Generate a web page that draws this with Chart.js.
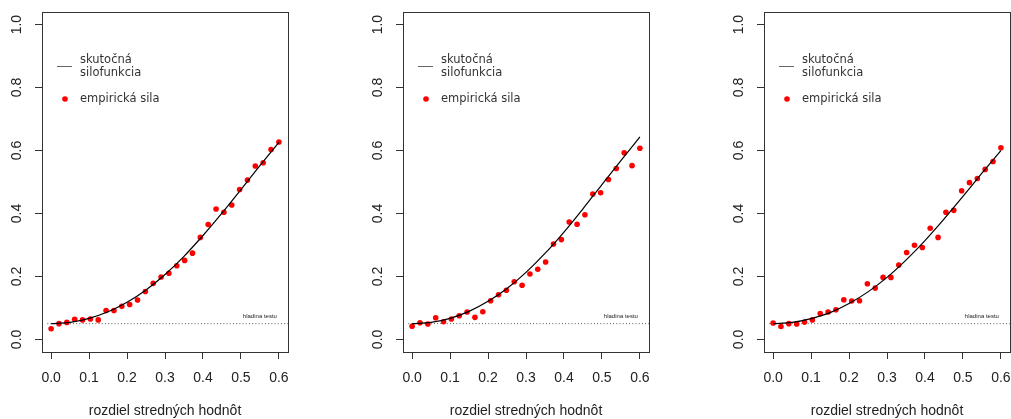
<!DOCTYPE html>
<html>
<head>
<meta charset="utf-8">
<script src="https://cdn.jsdelivr.net/npm/chart.js@4/dist/chart.umd.min.js"></script>
<style>
  html, body { margin: 0; padding: 0; background: #fff; overflow: hidden; }
  #wrap { position: relative; width: 1011px; height: 419px; overflow: hidden; }
  .panel { position: absolute; top: 0; width: 361px; height: 419px; }
</style>
</head>
<body>
<div id="wrap">
  <div class="panel" style="left:0"><canvas id="chart-1"></canvas></div>
  <div class="panel" style="left:361px"><canvas id="chart-2"></canvas></div>
  <div class="panel" style="left:722px"><canvas id="chart-3"></canvas></div>
</div>
<script>
// --- Dáta ---
const dotX = [0, 0.0207, 0.0414, 0.0621, 0.0828, 0.1034, 0.1241, 0.1448, 0.1655, 0.1862,
              0.2069, 0.2276, 0.2483, 0.2690, 0.2897, 0.3103, 0.3310, 0.3517, 0.3724, 0.3931,
              0.4138, 0.4345, 0.4552, 0.4759, 0.4966, 0.5172, 0.5379, 0.5586, 0.5793, 0.6];

const empirical1 = [0.034, 0.050, 0.054, 0.064, 0.062, 0.065, 0.062, 0.092, 0.092, 0.105,
                    0.111, 0.125, 0.152, 0.178, 0.198, 0.210, 0.234, 0.251, 0.274, 0.324,
                    0.365, 0.414, 0.404, 0.427, 0.476, 0.506, 0.551, 0.561, 0.603, 0.627];
const empirical2 = [0.042, 0.053, 0.049, 0.069, 0.056, 0.065, 0.075, 0.087, 0.070, 0.088,
                    0.123, 0.142, 0.156, 0.183, 0.172, 0.208, 0.223, 0.246, 0.303, 0.317,
                    0.373, 0.366, 0.396, 0.462, 0.466, 0.508, 0.543, 0.593, 0.552, 0.607];
const empirical3 = [0.052, 0.041, 0.050, 0.049, 0.055, 0.062, 0.082, 0.087, 0.094, 0.126,
                    0.122, 0.123, 0.177, 0.163, 0.197, 0.197, 0.236, 0.276, 0.299, 0.292,
                    0.353, 0.324, 0.404, 0.410, 0.472, 0.498, 0.511, 0.540, 0.565, 0.609];

const curveX = [0, 0.05, 0.1, 0.15, 0.2, 0.25, 0.3, 0.35, 0.4, 0.45, 0.5, 0.55, 0.6];
const power1 = [0.050, 0.054, 0.067, 0.088, 0.118, 0.157, 0.206, 0.264, 0.330, 0.401, 0.476, 0.552, 0.626];
const power2 = [0.050, 0.054, 0.067, 0.089, 0.121, 0.162, 0.213, 0.273, 0.341, 0.415, 0.492, 0.568, 0.643];
const power3 = [0.050, 0.054, 0.066, 0.085, 0.114, 0.151, 0.197, 0.252, 0.314, 0.382, 0.454, 0.528, 0.600];

const alphaLevel = 0.05;
const xTicks = [0, 0.1, 0.2, 0.3, 0.4, 0.5, 0.6];
const xTickLabels = ['0.0', '0.1', '0.2', '0.3', '0.4', '0.5', '0.6'];
const yTicks = [0, 0.2, 0.4, 0.6, 0.8, 1.0];
const yTickLabels = ['0.0', '0.2', '0.4', '0.6', '0.8', '1.0'];

const xTitle = 'rozdiel stredných hodnôt';
const legendCurve = ['skutočná', 'silofunkcia'];
const legendDots = 'empirická sila';
const alphaText = 'hladina testu';

const tickFont = '14px "Liberation Sans", Arial, sans-serif';
const legendFont = '11.5px "DejaVu Sans", sans-serif';

// --- Plugin: rámček, popisy osí, legenda ---
const rPlotPlugin = {
    id: 'rPlot',
    afterDraw(chart) {
        const ctx = chart.ctx;
        const area = chart.chartArea;
        const xs = chart.scales.x;
        const ys = chart.scales.y;
        ctx.save();

        // rámček
        ctx.strokeStyle = '#333';
        ctx.lineWidth = 1;
        ctx.strokeRect(Math.round(area.left) + 0.5, Math.round(area.top) + 0.5,
                       Math.round(area.right - area.left), Math.round(area.bottom - area.top));

        ctx.fillStyle = '#222';
        ctx.font = tickFont;
        ctx.textAlign = 'center';
        ctx.textBaseline = 'middle';

        // popisy osi x
        xTicks.forEach((v, i) => {
            ctx.fillText(xTickLabels[i], xs.getPixelForValue(v), area.bottom + 26);
        });
        // popisy osi y (otočené)
        yTicks.forEach((v, i) => {
            ctx.save();
            ctx.translate(area.left - 25, ys.getPixelForValue(v));
            ctx.rotate(-Math.PI / 2);
            ctx.fillText(yTickLabels[i], 0, 0);
            ctx.restore();
        });
        // názov osi x
        ctx.fillText(xTitle, (area.left + area.right) / 2, area.bottom + 59);

        // hladina testu
        ctx.font = '6px "Liberation Sans", Arial, sans-serif';
        ctx.textAlign = 'right';
        ctx.fillText(alphaText, xs.getPixelForValue(0.6) - 2, ys.getPixelForValue(alphaLevel) - 7);

        // legenda
        const lx = area.left + 15;
        const ly = area.top + 54;
        ctx.strokeStyle = '#666';
        ctx.beginPath();
        ctx.moveTo(lx, ly + 0.5);
        ctx.lineTo(lx + 15, ly + 0.5);
        ctx.stroke();
        ctx.fillStyle = '#333';
        ctx.font = legendFont;
        ctx.textAlign = 'left';
        ctx.fillText(legendCurve[0], lx + 23, ly - 6);
        ctx.fillText(legendCurve[1], lx + 23, ly + 7);
        ctx.fillText(legendDots, lx + 23, ly + 33);
        ctx.fillStyle = '#ff0000';
        ctx.beginPath();
        ctx.arc(lx + 8, ly + 33, 2.8, 0, Math.PI * 2);
        ctx.fill();

        ctx.restore();
    }
};

function makePanel(canvasId, power, empirical) {
    const ctx = document.getElementById(canvasId).getContext('2d');
    return new Chart(ctx, {
        type: 'scatter',
        data: {
            datasets: [
                {
                    label: 'skutočná silofunkcia',
                    data: curveX.map((x, i) => ({ x: x, y: power[i] })),
                    showLine: true,
                    borderColor: '#000',
                    borderWidth: 1.2,
                    pointRadius: 0,
                    cubicInterpolationMode: 'monotone'
                },
                {
                    label: 'empirická sila',
                    data: dotX.map((x, i) => ({ x: x, y: empirical[i] })),
                    pointRadius: 2.8,
                    pointBackgroundColor: '#ff0000',
                    pointBorderWidth: 0
                },
                {
                    label: 'hladina testu',
                    data: [{ x: -0.01, y: alphaLevel }, { x: 0.63, y: alphaLevel }],
                    showLine: true,
                    borderColor: '#555',
                    borderWidth: 1,
                    borderDash: [1, 2.2],
                    pointRadius: 0
                }
            ]
        },
        options: {
            responsive: true,
            maintainAspectRatio: false,
            animation: false,
            layout: { padding: { top: 12, right: 73, left: 0, bottom: 0 } },
            plugins: { legend: { display: false }, tooltip: { enabled: false } },
            scales: {
                x: {
                    type: 'linear',
                    min: -0.024,
                    max: 0.624,
                    afterBuildTicks: s => { s.ticks = xTicks.map(v => ({ value: v })); },
                    afterFit: s => { s.height = 67; },
                    ticks: { display: false },
                    grid: { drawOnChartArea: false, drawTicks: true, tickLength: 7, color: '#333' },
                    border: { display: false }
                },
                y: {
                    type: 'linear',
                    min: -0.04,
                    max: 1.04,
                    afterBuildTicks: s => { s.ticks = yTicks.map(v => ({ value: v })); },
                    afterFit: s => { s.width = 42; },
                    ticks: { display: false },
                    grid: { drawOnChartArea: false, drawTicks: true, tickLength: 7, color: '#333' },
                    border: { display: false }
                }
            }
        },
        plugins: [rPlotPlugin]
    });
}

makePanel('chart-1', power1, empirical1);
makePanel('chart-2', power2, empirical2);
makePanel('chart-3', power3, empirical3);
</script>
</body>
</html>
